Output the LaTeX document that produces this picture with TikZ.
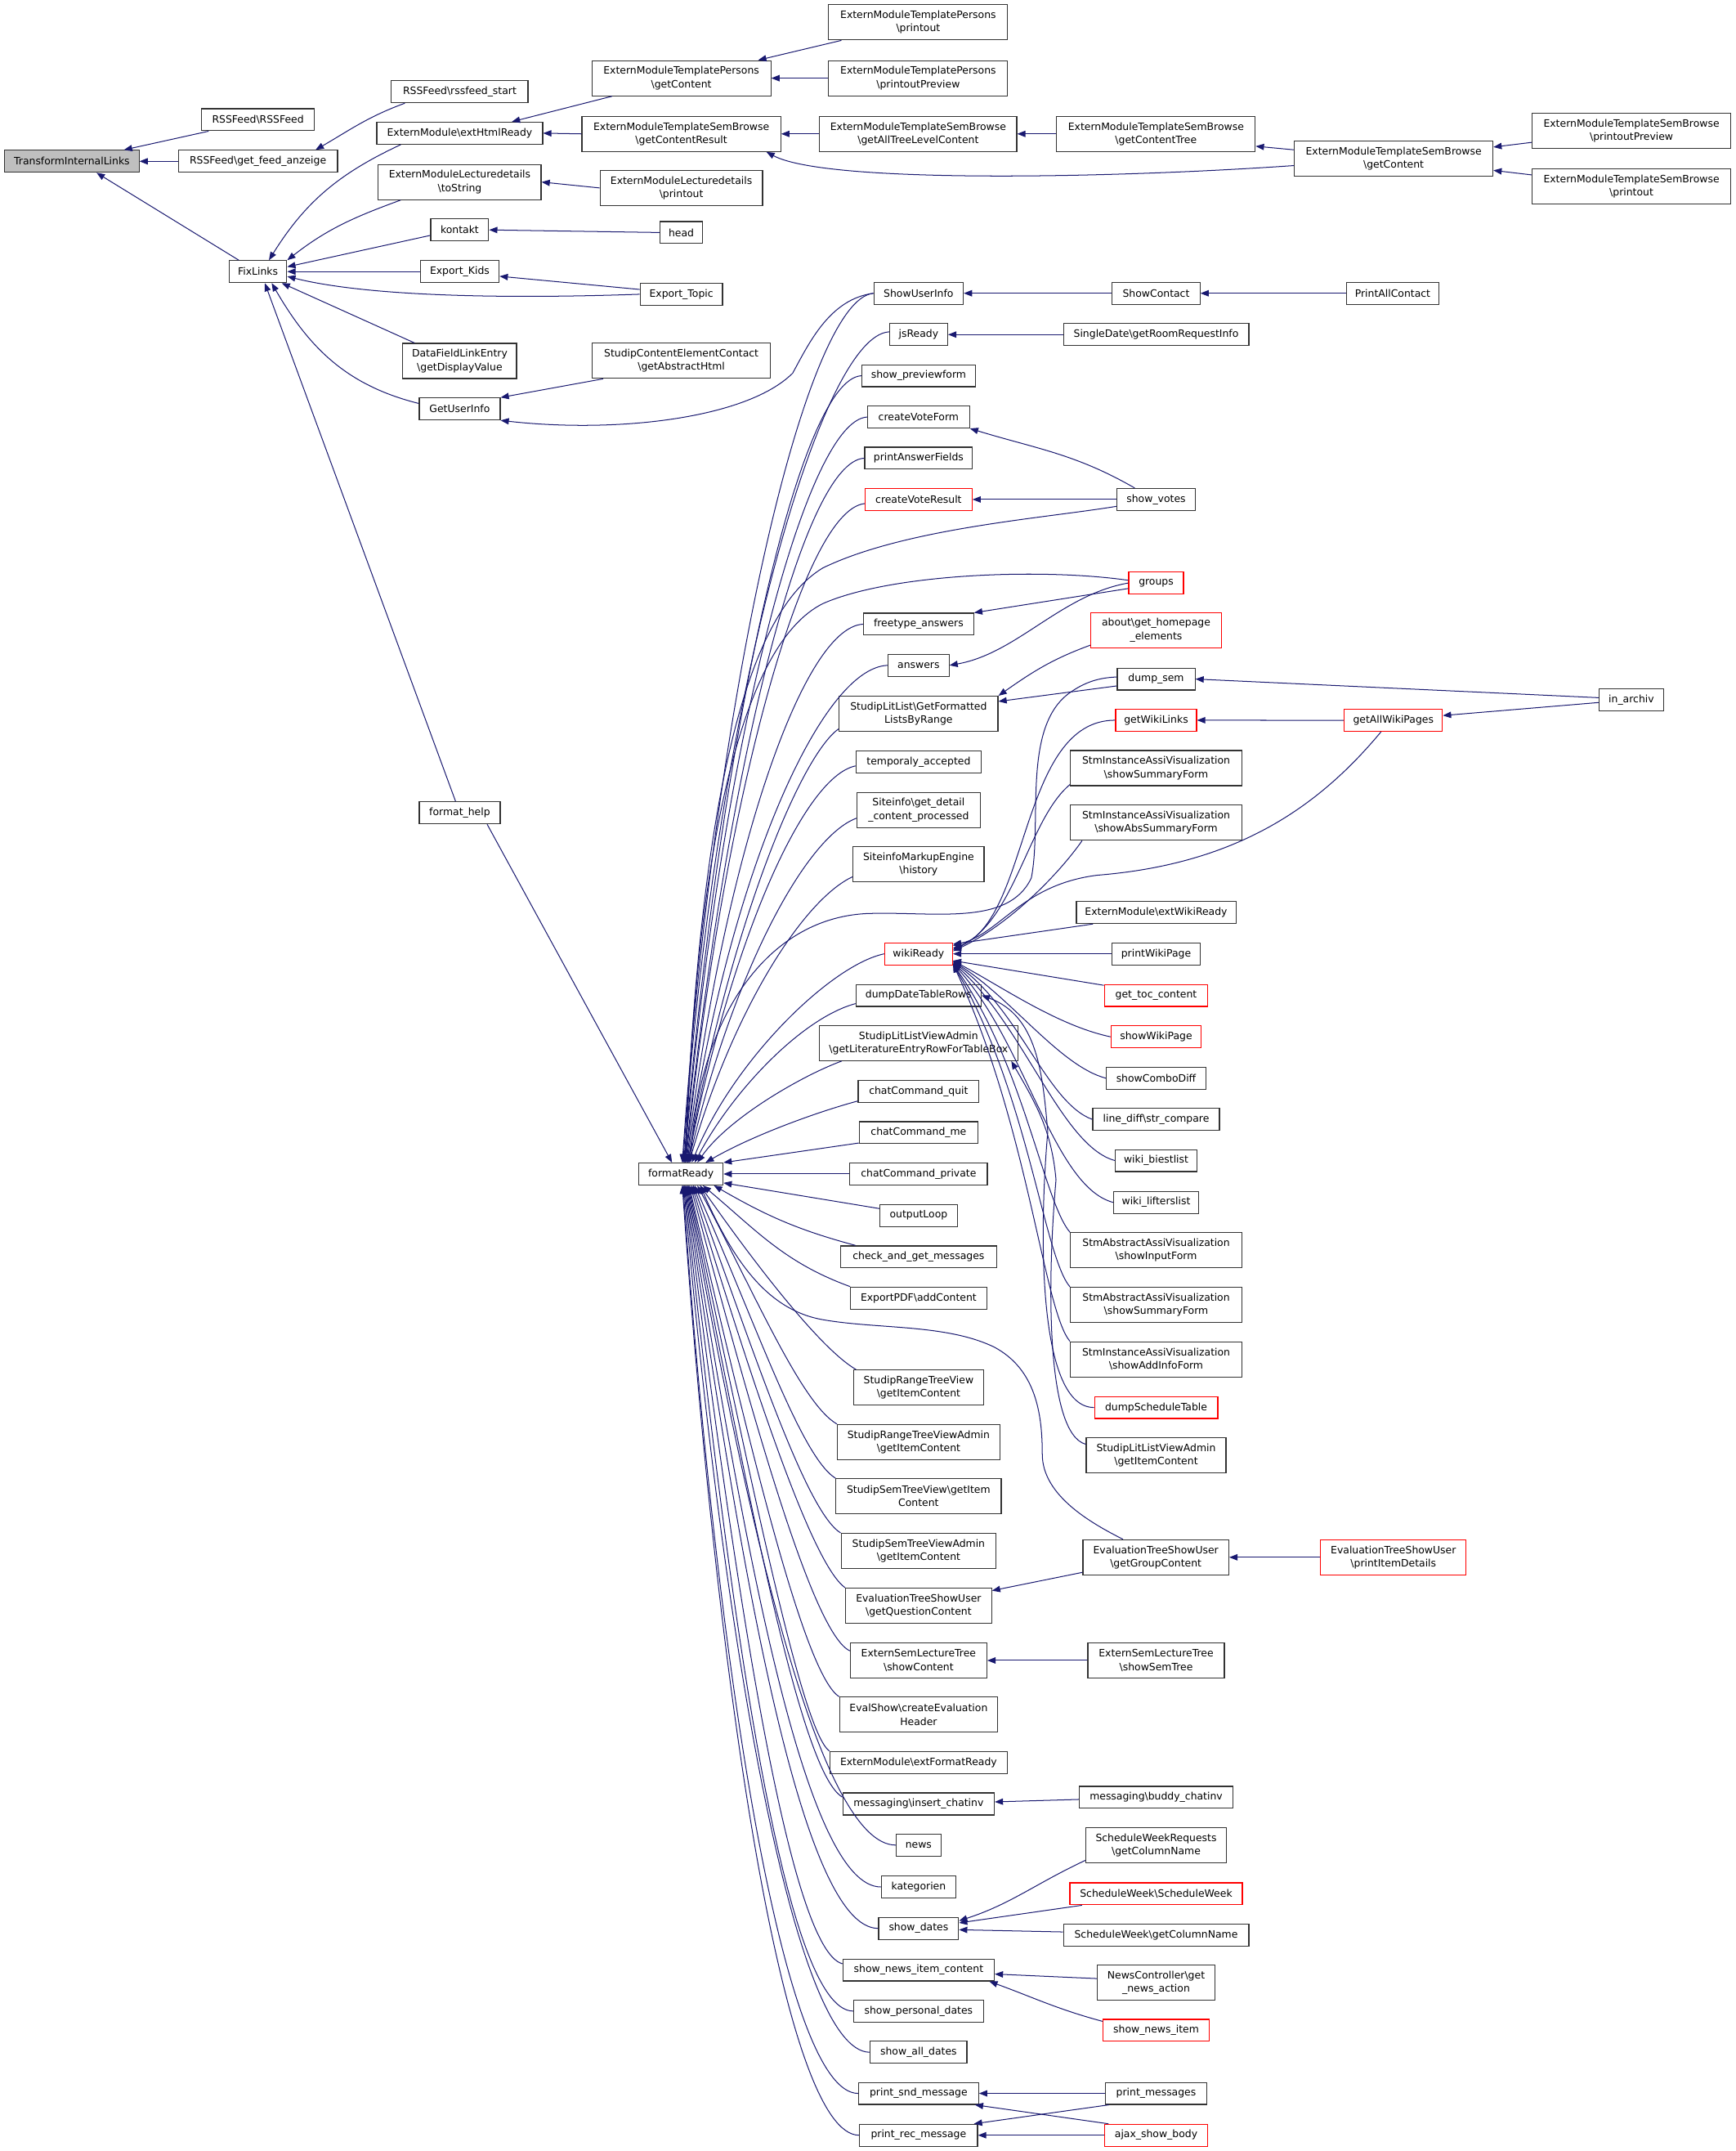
\documentclass[tikz,border=0pt]{standalone}
\usepackage{fontspec}
\setmainfont{DejaVu Sans}
\usetikzlibrary{arrows.meta}
\definecolor{edgeblue}{HTML}{191970}
\definecolor{rootgray}{HTML}{BFBFBF}
\definecolor{boxred}{HTML}{FF0000}
\newcommand\dxfont{\fontsize{7.4}{9.7}\selectfont}
\newcommand\bsl{\textbackslash}
\newcommand\Nd[6]{\node[#1, minimum width=#5pt] (#2) at (#3,-#4) {#6};}
\newcommand\frup[6]{\draw[cl] ([xshift=#1pt]fr.north) to[out=#2,in=#4,out distance=#3pt,in distance=#5pt] #6;}
\newcommand\frdn[6]{\draw[cl] ([xshift=#1pt]fr.south) to[out=#2,in=#4,out distance=#3pt,in distance=#5pt] #6;}
\begin{document}
\begin{tikzpicture}[x=1pt,y=1pt,
 fn/.style={draw=black!80, fill=white, line width=0.7pt, inner sep=1pt, minimum height=16pt, align=center, font=\dxfont},
 fnn/.style={fn, minimum height=25.6pt},
 rb/.style={fn, draw=boxred},
 rbb/.style={fnn, draw=boxred},
 rootbox/.style={fn, fill=rootgray},
 cl/.style={draw=edgeblue, line width=0.6pt, {Triangle[length=6pt,width=4.6pt]}-}]
\path[fill=white] (0,0) rectangle (1265.25,-1568);
\useasboundingbox (0,0) rectangle (1265.25,-1568);
% column 0-2
\Nd{rootbox}{til}{52.4}{117.6}{98}{TransformInternalLinks}
\Nd{fn}{rss}{188.1}{87.3}{82.4}{RSSFeed\bsl RSSFeed}
\Nd{fn}{gfa}{188.1}{117.6}{116}{RSSFeed\bsl get\_feed\_anzeige}
\Nd{fn}{fix}{188.1}{198}{42}{FixLinks}
\Nd{fn}{rsss}{335.2}{66.9}{99.6}{RSSFeed\bsl rssfeed\_start}
\Nd{fn}{ehr}{335.2}{97.1}{121}{ExternModule\bsl extHtmlReady}
\Nd{fnn}{tos}{335.2}{132.7}{118.7}{ExternModuleLecturedetails\\\bsl toString}
\Nd{fn}{kon}{335.2}{167.6}{42.2}{kontakt}
\Nd{fn}{ek}{335.2}{198}{57.5}{Export\_Kids}
\Nd{fnn}{dfl}{335.2}{263.1}{83}{DataFieldLinkEntry\\\bsl getDisplayValue}
\Nd{fn}{gui}{335.2}{298.1}{59}{GetUserInfo}
\Nd{fn}{fh}{335.2}{592.5}{59}{format\_help}
% column 3
\Nd{fnn}{pgc}{496.8}{57}{130.5}{ExternModuleTemplatePersons\\\bsl getContent}
\Nd{fnn}{gcr}{496.8}{97.6}{145}{ExternModuleTemplateSemBrowse\\\bsl getContentResult}
\Nd{fnn}{ldp}{496.8}{137}{118.5}{ExternModuleLecturedetails\\\bsl printout}
\Nd{fn}{head}{496.8}{169.5}{31}{head}
\Nd{fn}{et}{496.8}{214.5}{60}{Export\_Topic}
\Nd{fnn}{scec}{496.8}{263}{130}{StudipContentElementContact\\\bsl getAbstractHtml}
\Nd{fn}{fr}{496.5}{855.8}{61.4}{formatReady}
% column 4
\Nd{fnn}{ppo}{669.5}{16.3}{130.5}{ExternModuleTemplatePersons\\\bsl printout}
\Nd{fnn}{ppp}{669.5}{57}{130.5}{ExternModuleTemplatePersons\\\bsl printoutPreview}
\Nd{fnn}{atl}{669.5}{97.6}{143.7}{ExternModuleTemplateSemBrowse\\\bsl getAllTreeLevelContent}
\Nd{fn}{sui}{669.8}{213.8}{65.2}{ShowUserInfo}
\Nd{fn}{jsr}{669.8}{243.9}{42.3}{jsReady}
\Nd{fn}{spf}{669.8}{273.9}{82.7}{show\_previewform}
\Nd{fn}{cvf}{669.8}{304}{74.2}{createVoteForm}
\Nd{fn}{paf}{669.8}{334}{78.5}{printAnswerFields}
\Nd{rb}{cvr}{669.8}{364.1}{78}{createVoteResult}
\Nd{fn}{ft}{669.8}{455}{80.3}{freetype\_answers}
\Nd{fn}{ans}{669.8}{485}{44.4}{answers}
\Nd{fnn}{sll}{669.8}{520.3}{115.8}{StudipLitList\bsl GetFormatted\\ListsByRange}
\Nd{fn}{ta}{669.8}{555.3}{91.3}{temporaly\_accepted}
\Nd{fnn}{si}{669.8}{590.4}{89.7}{Siteinfo\bsl get\_detail\\\_content\_processed}
\Nd{fnn}{sme}{669.8}{630.1}{95.5}{SiteinfoMarkupEngine\\\bsl history}
\Nd{rb}{wr}{669.8}{695.3}{49.5}{wikiReady}
\Nd{fn}{ddr}{669.8}{725.6}{91.3}{dumpDateTableRows}
\Nd{fnn}{glert}{669.8}{760.3}{144.5}{StudipLitListViewAdmin\\\bsl getLiteratureEntryRowForTableBox}
\Nd{fn}{ccq}{669.8}{795.6}{88}{chatCommand\_quit}
\Nd{fn}{ccm}{669.8}{825.7}{86.5}{chatCommand\_me}
\Nd{fn}{ccp}{669.8}{855.8}{100.3}{chatCommand\_private}
\Nd{fn}{ol}{669.8}{886}{56.4}{outputLoop}
\Nd{fn}{cag}{669.8}{916.2}{113.6}{check\_and\_get\_messages}
\Nd{fn}{epdf}{669.8}{946.2}{99.2}{ExportPDF\bsl addContent}
\Nd{fnn}{srt}{669.8}{1011.5}{94.4}{StudipRangeTreeView\\\bsl getItemContent}
\Nd{fnn}{srta}{669.8}{1051.2}{118.4}{StudipRangeTreeViewAdmin\\\bsl getItemContent}
\Nd{fnn}{sst1}{669.8}{1090.7}{120.5}{StudipSemTreeView\bsl getItem\\Content}
\Nd{fnn}{ssta}{669.8}{1130.6}{113}{StudipSemTreeViewAdmin\\\bsl getItemContent}
\Nd{fnn}{gqc}{669.8}{1170.5}{106.4}{EvaluationTreeShowUser\\\bsl getQuestionContent}
\Nd{fnn}{shc}{669.8}{1210.4}{99.5}{ExternSemLectureTree\\\bsl showContent}
\Nd{fnn}{ceh}{669.8}{1249.9}{115.2}{EvalShow\bsl createEvaluation\\Header}
\Nd{fn}{efr}{669.8}{1284.8}{129.3}{ExternModule\bsl extFormatReady}
\Nd{fn}{ici}{669.8}{1315}{110.4}{messaging\bsl insert\_chatinv}
\Nd{fn}{news}{669.8}{1345}{32.5}{news}
\Nd{fn}{kat}{669.8}{1375.5}{54.3}{kategorien}
\Nd{fn}{sd}{669.8}{1405.7}{58.3}{show\_dates}
\Nd{fn}{snic}{669.8}{1436}{110.4}{show\_news\_item\_content}
\Nd{fn}{spd}{669.8}{1466}{94.7}{show\_personal\_dates}
\Nd{fn}{sad}{669.8}{1496}{70.5}{show\_all\_dates}
\Nd{fn}{psm}{669.8}{1526}{87.5}{print\_snd\_message}
\Nd{fn}{prm}{669.8}{1556.5}{86}{print\_rec\_message}
% column 5
\Nd{fnn}{gct}{842.9}{97.6}{144.8}{ExternModuleTemplateSemBrowse\\\bsl getContentTree}
\Nd{fn}{sc}{843}{213.8}{64}{ShowContact}
\Nd{fn}{sdr}{843}{243.9}{135.2}{SingleDate\bsl getRoomRequestInfo}
\Nd{fn}{sv}{843}{364.1}{57.2}{show\_votes}
\Nd{rb}{grp}{843}{425}{40}{groups}
\Nd{rbb}{about}{843}{459.3}{95.2}{about\bsl get\_homepage\\\_elements}
\Nd{fn}{ds}{843}{495}{56.7}{dump\_sem}
\Nd{rb}{gwl}{843}{525}{59}{getWikiLinks}
\Nd{fnn}{ss}{843}{559.9}{125}{StmInstanceAssiVisualization\\\bsl showSummaryForm}
\Nd{fnn}{sas}{843}{599.7}{125}{StmInstanceAssiVisualization\\\bsl showAbsSummaryForm}
\Nd{fn}{ewr}{843}{665.2}{116.3}{ExternModule\bsl extWikiReady}
\Nd{fn}{pwp}{843}{695.3}{64.1}{printWikiPage}
\Nd{rb}{gtc}{843}{725.6}{75.5}{get\_toc\_content}
\Nd{rb}{swp}{843}{755.8}{65.7}{showWikiPage}
\Nd{fn}{scd}{843}{786}{72.4}{showComboDiff}
\Nd{fn}{ld}{843}{816}{92.3}{line\_diff\bsl str\_compare}
\Nd{fn}{wb}{843}{846}{59.3}{wiki\_biestlist}
\Nd{fn}{wl}{843}{876.5}{62}{wiki\_lifterslist}
\Nd{fnn}{ifm}{843}{911.4}{125}{StmAbstractAssiVisualization\\\bsl showInputForm}
\Nd{fnn}{ssf}{843}{951.2}{125}{StmAbstractAssiVisualization\\\bsl showSummaryForm}
\Nd{fnn}{aif}{843}{990.9}{125}{StmInstanceAssiVisualization\\\bsl showAddInfoForm}
\Nd{rb}{dst}{843}{1026}{89.9}{dumpScheduleTable}
\Nd{fnn}{sgic}{843}{1060.8}{101.9}{StudipLitListViewAdmin\\\bsl getItemContent}
\Nd{fnn}{ggc}{842.8}{1135.2}{106.4}{EvaluationTreeShowUser\\\bsl getGroupContent}
\Nd{fnn}{sst}{843}{1210.4}{99.5}{ExternSemLectureTree\\\bsl showSemTree}
\Nd{fn}{bci}{843}{1310.2}{112}{messaging\bsl buddy\_chatinv}
\Nd{fnn}{swr}{843}{1345.1}{102.4}{ScheduleWeekRequests\\\bsl getColumnName}
\Nd{rb}{swsw}{843}{1380.5}{125.8}{ScheduleWeek\bsl ScheduleWeek}
\Nd{fn}{swgc}{843}{1410.8}{135.2}{ScheduleWeek\bsl getColumnName}
\Nd{fnn}{nc}{843}{1445.3}{85.4}{NewsController\bsl get\\\_news\_action}
\Nd{rb}{sni}{843}{1480}{77.2}{show\_news\_item}
\Nd{fn}{pm}{843}{1526}{74.2}{print\_messages}
\Nd{rb}{asb}{843}{1556.5}{74.8}{ajax\_show\_body}
% column 6-7
\Nd{fnn}{sbgc}{1016.2}{115.7}{144.8}{ExternModuleTemplateSemBrowse\\\bsl getContent}
\Nd{fn}{pac}{1015.5}{213.8}{67}{PrintAllContact}
\Nd{rb}{gawp}{1016}{525.1}{71.5}{getAllWikiPages}
\Nd{rbb}{pid}{1016}{1135.2}{106}{EvaluationTreeShowUser\\\bsl printItemDetails}
\Nd{fnn}{sbpp}{1189.6}{95.3}{144.8}{ExternModuleTemplateSemBrowse\\\bsl printoutPreview}
\Nd{fnn}{sbpo}{1189.6}{136}{144.8}{ExternModuleTemplateSemBrowse\\\bsl printout}
\Nd{fn}{ina}{1189.5}{510.1}{46.7}{in\_archiv}
% ---------- edges ----------
\draw[cl] ([xshift=38]til.north) -- ([xshift=-36]rss.south);
\draw[cl] (til.east) -- (gfa.west);
\draw[cl] ([xshift=18]til.south) -- ([xshift=-14]fix.north);
\draw[cl] ([xshift=42]gfa.north) to[out=30,in=200] ([xshift=-40]rsss.south);
\draw[cl] ([xshift=8]fix.north) to[out=58,in=205] ([xshift=-43]ehr.south);
\draw[cl] (fix.north east) to[out=38,in=200] ([xshift=-43]tos.south);
\draw[cl] ([yshift=3.5]fix.east) -- ([yshift=-4]kon.west);
\draw[cl] (fix.east) -- (ek.west);
\draw[cl] ([yshift=-3.5]fix.east) to[out=-14,in=182,out distance=60pt,in distance=100pt] (et.west);
\draw[cl] ([xshift=-4]fix.south east) -- ([xshift=-33]dfl.north);
\draw[cl] ([xshift=10]fix.south) to[out=-60,in=166] ([yshift=4]gui.west);
\draw[cl] ([xshift=5]fix.south) -- ([xshift=-3]fh.north);
\draw[cl] ([xshift=38]ehr.north) -- ([xshift=-50.5]pgc.south);
\draw[cl] (ehr.east) -- (gcr.west);
\draw[cl] (tos.east) -- (ldp.west);
\draw[cl] (kon.east) -- (head.west);
\draw[cl] ([yshift=-3.4]ek.east) -- ([yshift=3.5]et.west);
\draw[cl] (gui.north east) -- ([xshift=-57]scec.south);
\draw[cl] (gui.south east) .. controls (450,-316) and (545,-305) .. (578,-272) .. controls (590,-250) and (605,-218) .. (sui.west);
\draw[cl] ([xshift=56]pgc.north) -- ([xshift=-56]ppo.south);
\draw[cl] (pgc.east) -- (ppp.west);
\draw[cl] (gcr.east) -- (atl.west);
\draw[cl] ([xshift=62]gcr.south) to[out=-28,in=184,out distance=50pt,in distance=130pt] ([yshift=-5]sbgc.west);
\draw[cl] (atl.east) -- (gct.west);
\draw[cl] ([yshift=-9]gct.east) -- ([yshift=6.5]sbgc.west);
\draw[cl] ([yshift=8.5]sbgc.east) -- ([yshift=-8.5]sbpp.west);
\draw[cl] ([yshift=-8.5]sbgc.east) -- ([yshift=8.5]sbpo.west);
\draw[cl] (sui.east) -- (sc.west);
\draw[cl] (sc.east) -- (pac.west);
\draw[cl] (jsr.east) -- (sdr.west);
\draw[cl] (cvf.south east) to[out=-17,in=150] ([xshift=-15.6]sv.north);
\draw[cl] (cvr.east) -- (sv.west);
\draw[cl] (ft.north east) -- ([yshift=-4]grp.west);
\draw[cl] (ans.east) to[out=10,in=190,out distance=50pt,in distance=50pt] (grp.west);
\draw[cl] (sll.north east) to[out=35,in=200] ([yshift=-11]about.west);
\draw[cl] ([yshift=9]sll.east) -- ([yshift=-5]ds.west);
\draw[cl] (ds.east) -- ([yshift=1.5]ina.west);
\draw[cl] (gwl.east) -- (gawp.west);
\draw[cl] ([yshift=3.5]gawp.east) -- ([yshift=-2]ina.west);
\draw[cl] ([yshift=11]gqc.east) -- ([yshift=-11]ggc.west);
\draw[cl] (ggc.east) -- (pid.west);
\draw[cl] (shc.east) -- (sst.west);
\draw[cl] ([yshift=1.5]ici.east) -- ([yshift=-1.5]bci.west);
\draw[cl] ([yshift=5.5]sd.east) to[out=18,in=205] ([yshift=-11]swr.west);
\draw[cl] ([yshift=4]sd.east) -- ([xshift=-54]swsw.south);
\draw[cl] ([yshift=-1]sd.east) -- ([yshift=2.5]swgc.west);
\draw[cl] ([yshift=-3]snic.east) -- ([yshift=3]nc.west);
\draw[cl] ([xshift=-4]snic.south east) to[out=-20,in=165] ([yshift=6.5]sni.west);
\draw[cl] (psm.east) -- (pm.west);
\draw[cl] ([xshift=-3]psm.south east) -- ([xshift=3]asb.north west);
\draw[cl] ([xshift=-3]prm.north east) -- ([xshift=3]pm.south west);
\draw[cl] (prm.east) -- (asb.west);
\draw[cl] (ddr.east) to[out=-20,in=95] (764,-825) to[out=-95,in=180,in distance=40pt] (dst.west);
\draw[cl] ([xshift=-5]glert.south east) to[out=-60,in=95] (770,-860) to[out=-95,in=165,in distance=30pt] ([yshift=8]sgic.west);
% wikiReady callers
\draw[cl] ([yshift=4]wr.east) to[out=20,in=180,out distance=60pt,in distance=70pt] (gwl.west);
\draw[cl] ([yshift=3]wr.east) to[out=25,in=220,out distance=50pt,in distance=40pt] ([yshift=-12]ss.west);
\draw[cl] ([yshift=2]wr.east) to[out=25,in=235,out distance=45pt,in distance=30pt] ([xshift=-54]sas.south);
\draw[cl] ([yshift=6]wr.east) .. controls (730,-680) and (745,-645) .. (800,-638) .. controls (900,-630) and (960,-590) .. ([xshift=-9]gawp.south);
\draw[cl] ([yshift=7]wr.east) -- ([xshift=-46]ewr.south);
\draw[cl] (wr.east) -- (pwp.west);
\draw[cl] ([yshift=-5]wr.east) -- ([yshift=-1]gtc.north west);
\draw[cl] ([yshift=-5]wr.east) to[out=-28,in=168,out distance=40pt,in distance=40pt] (swp.west);
\draw[cl] ([yshift=-5.5]wr.east) to[out=-32,in=165,out distance=50pt,in distance=35pt] (scd.west);
\draw[cl] ([yshift=-6]wr.east) to[out=-36,in=160,out distance=60pt,in distance=35pt] (ld.west);
\draw[cl] ([yshift=-6.5]wr.east) to[out=-42,in=165,out distance=70pt,in distance=40pt] (wb.west);
\draw[cl] ([yshift=-7]wr.east) to[out=-48,in=165,out distance=80pt,in distance=45pt] (wl.west);
\draw[cl] ([yshift=-7.5]wr.east) to[out=-55,in=130,out distance=90pt,in distance=30pt] (ifm.north west);
\draw[cl] ([yshift=-7.5]wr.east) to[out=-60,in=130,out distance=110pt,in distance=30pt] (ssf.north west);
\draw[cl] ([yshift=-7.5]wr.east) to[out=-65,in=130,out distance=130pt,in distance=30pt] (aif.north west);
% formatReady callers
\draw[cl] ([xshift=-6.5]fr.north) -- ([xshift=20]fh.south);
\frup{1}{86}{349}{185}{49}{(sui.west)}
\frup{1.5}{86}{338}{183}{50}{([yshift=2]jsr.west)}
\frup{2}{85}{320}{183}{45}{(spf.west)}
\frup{2.5}{85}{303}{183}{45}{(cvf.west)}
\frup{3}{84}{287}{183}{45}{(paf.west)}
\frup{3.5}{84}{268}{186}{45}{([yshift=-3]cvr.west)}
\frup{4}{83}{220}{183}{45}{(ft.west)}
\frup{4.5}{82}{204}{182}{50}{(ans.west)}
\frup{5}{80}{170}{215}{35}{([yshift=-11]sll.west)}
\frup{5}{79}{160}{192}{40}{([yshift=-3]ta.west)}
\frup{5.5}{77}{140}{200}{40}{([yshift=-6]si.west)}
\frup{6}{74}{115}{205}{40}{([yshift=-9]sme.west)}
\frup{8}{68}{80}{192}{40}{(wr.west)}
\frup{10}{62}{60}{195}{40}{([yshift=-6]ddr.west)}
\frup{12}{55}{40}{200}{30}{([xshift=-56]glert.south)}
\frup{18}{30}{40}{195}{30}{([yshift=-7]ccq.west)}
\draw[cl] (fr.north east) -- ([yshift=-7.5]ccm.west);
\draw[cl] (fr.east) -- (ccp.west);
\draw[cl] ([yshift=-6.5]fr.east) -- ([yshift=5]ol.west);
\draw[cl] ([xshift=-7]fr.south east) to[out=-30,in=165] ([xshift=-46]cag.north);
\draw[cl] ([xshift=16]fr.south) to[out=-40,in=160] (epdf.north west);
\frdn{14}{-55}{70}{150}{30}{([xshift=2]srt.north west)}
\frdn{12}{-62}{90}{150}{30}{(srta.north west)}
\frdn{10}{-66}{110}{148}{30}{(sst1.north west)}
\frdn{9}{-70}{130}{148}{30}{(ssta.north west)}
\frdn{8}{-73}{150}{145}{30}{(gqc.north west)}
\frdn{7}{-75}{175}{155}{30}{([yshift=7]shc.west)}
\frdn{6}{-77}{195}{148}{30}{(ceh.north west)}
\frdn{5.5}{-78}{215}{145}{25}{(efr.north west)}
\frdn{5}{-79}{235}{150}{35}{([yshift=5]ici.west)}
\frdn{4.5}{-80}{255}{180}{55}{(news.west)}
\frdn{4}{-81}{270}{180}{55}{(kat.west)}
\frdn{3.5}{-82}{290}{180}{55}{(sd.west)}
\frdn{3}{-83}{300}{165}{40}{([yshift=4.5]snic.west)}
\frdn{2.5}{-84}{320}{180}{50}{(spd.west)}
\frdn{2}{-85}{335}{180}{55}{(sad.west)}
\frdn{1.5}{-86}{350}{180}{55}{(psm.west)}
\frdn{1}{-86}{370}{180}{55}{(prm.west)}
\draw[cl] ([xshift=3]fr.north) .. controls (510,-600) and (540,-450) .. (600,-414) .. controls (660,-385) and (760,-378) .. ([yshift=-5]sv.west);
\draw[cl] ([xshift=3.5]fr.north) .. controls (508,-620) and (540,-470) .. (600,-440) .. controls (650,-418) and (760,-414) .. ([yshift=2]grp.west);
\draw[cl] ([xshift=7]fr.north) .. controls (510,-740) and (560,-670) .. (631,-666) .. controls (680,-664) and (735,-676) .. (752,-640) .. controls (760,-600) and (745,-530) .. (780,-505) .. controls (790,-498) and (800,-494) .. ([yshift=1.5]ds.west);
\draw[cl] ([xshift=14]fr.south) .. controls (535,-920) and (560,-955) .. (600,-962) .. controls (640,-969) and (690,-965) .. (725,-982) .. controls (755,-998) and (760,-1030) .. (760,-1060) .. controls (760,-1090) and (795,-1110) .. ([xshift=-24]ggc.north);
\end{tikzpicture}
\end{document}
